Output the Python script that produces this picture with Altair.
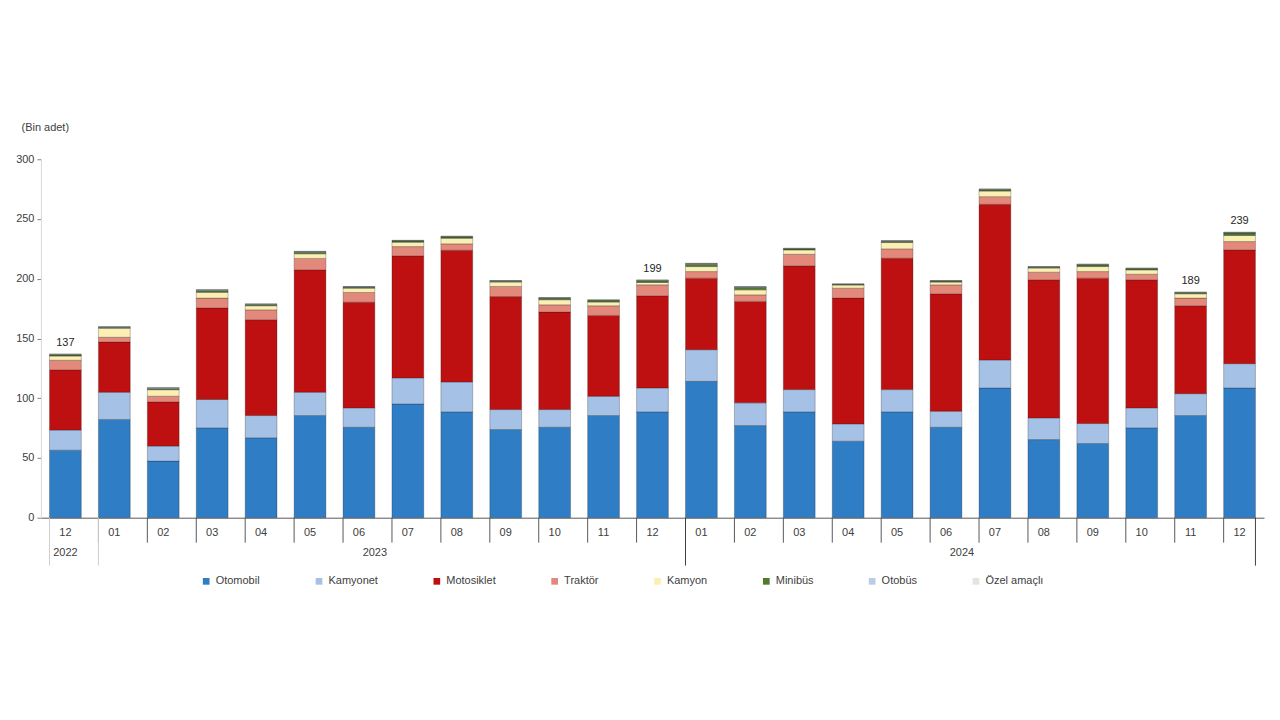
import altair as alt
import pandas as pd

keys = ["2022-12",
        "2023-01", "2023-02", "2023-03", "2023-04", "2023-05", "2023-06",
        "2023-07", "2023-08", "2023-09", "2023-10", "2023-11", "2023-12",
        "2024-01", "2024-02", "2024-03", "2024-04", "2024-05", "2024-06",
        "2024-07", "2024-08", "2024-09", "2024-10", "2024-11", "2024-12"]

categories = ["Otomobil", "Kamyonet", "Motosiklet", "Traktör",
              "Kamyon", "Minibüs", "Otobüs", "Özel amaçlı"]
colors = ["#2F7DC4", "#A6C1E6", "#BE1010", "#E3897C",
          "#FBEFB4", "#4F7A30", "#B9CCE8", "#E3E3E3"]

otomobil = [56.5, 82.2, 47.4, 75.2, 66.9, 85.5, 75.7, 95.2, 88.6, 73.8, 75.7, 85.5, 88.6,
            114.1, 77.1, 88.6, 64.0, 88.6, 75.7, 108.6, 65.4, 62.1, 75.2, 85.5, 108.6]
kamyonet = [16.8, 22.8, 12.5, 23.7, 18.6, 19.5, 16.2, 21.8, 25.0, 16.7, 14.8, 16.1, 20.0,
            26.5, 19.0, 18.6, 14.5, 18.6, 13.4, 23.4, 18.1, 16.7, 16.7, 18.3, 20.3]
motosiklet = [50.4, 42.0, 37.0, 76.6, 80.2, 102.5, 88.5, 102.1, 110.3, 94.6, 81.6, 67.7, 77.1,
              59.9, 84.9, 103.6, 105.3, 110.0, 98.3, 130.3, 115.6, 121.7, 107.2, 73.6, 95.2]
traktor = [8.1, 4.0, 4.8, 8.3, 8.3, 9.5, 8.1, 7.8, 5.3, 8.4, 6.1, 8.1, 9.2,
           5.5, 5.5, 9.7, 8.3, 7.8, 7.5, 6.4, 6.4, 5.5, 4.7, 6.4, 7.0]
kamyon = [3.5, 7.6, 5.4, 4.8, 3.4, 3.9, 3.6, 3.7, 4.7, 3.7, 4.2, 3.1, 2.0,
          4.2, 4.2, 3.6, 2.6, 5.3, 2.3, 4.7, 3.4, 4.2, 3.6, 3.6, 5.1]
minibus = [0.9, 0.6, 0.9, 1.4, 0.9, 1.3, 0.8, 1.0, 1.1, 0.8, 1.2, 1.2, 1.4,
           2.0, 2.0, 0.8, 0.5, 1.0, 0.8, 1.1, 0.8, 1.4, 1.0, 0.9, 2.0]
otobus = [0.5, 0.5, 0.6, 0.6, 0.4, 0.5, 0.4, 0.4, 0.4, 0.3, 0.4, 0.4, 0.4,
          0.5, 0.5, 0.4, 0.3, 0.4, 0.3, 0.4, 0.3, 0.4, 0.3, 0.3, 0.5]
ozel = [0.3, 0.3, 0.4, 0.4, 0.3, 0.3, 0.2, 0.2, 0.2, 0.2, 0.3, 0.3, 0.3,
        0.3, 0.3, 0.3, 0.2, 0.2, 0.2, 0.2, 0.2, 0.2, 0.2, 0.2, 0.3]

series = [otomobil, kamyonet, motosiklet, traktor, kamyon, minibus, otobus, ozel]

labeled_keys = ["2022-12", "2023-12", "2024-11", "2024-12"]

years = ["2022", "2023", "2024"]
year_anchor_center = ["2022-12"]          # year label centred on this band
year_anchor_edge = ["2023-06", "2024-06"]  # year label at right edge of this band
long_sep_light = ["2022-12", "2023-01"]
long_sep_dark_left = ["2024-01"]
long_sep_dark_right = ["2024-12"]

rows = []
for i, k in enumerate(keys):
    for j, c in enumerate(categories):
        rows.append({"key": k, "cat": c, "order": j, "value": series[j][i]})
df = pd.DataFrame(rows)

W, H = 1225, 359
FONT = "Liberation Sans"

xscale = alt.Scale(domain=keys, paddingInner=0.35, paddingOuter=0.175)

bars = alt.Chart(df).mark_bar(stroke="#1a1a1a", strokeWidth=0.6, strokeOpacity=0.45).encode(
    x=alt.X("key:N", scale=xscale,
            axis=alt.Axis(title=None, labelAngle=0, ticks=False,
                          labelExpr="split(datum.label, '-')[1]",
                          labelPadding=9, labelFontSize=11, labelColor="#404040",
                          labelFont=FONT, domainColor="#595959", domainWidth=1)),
    y=alt.Y("value:Q", stack="zero",
            scale=alt.Scale(domain=[0, 300], nice=False),
            axis=alt.Axis(values=[0, 50, 100, 150, 200, 250, 300], grid=False,
                          domainColor="#d9d9d9", tickColor="#7f7f7f", tickSize=4,
                          labelFontSize=11, labelColor="#404040", labelFont=FONT,
                          labelPadding=3,
                          title="(Bin adet)", titleAngle=0, titleAlign="left",
                          titleBaseline="middle",
                          titleX=-20, titleY=-32, titleFont=FONT,
                          titleFontSize=11, titleFontWeight="normal",
                          titleColor="#404040")),
    color=alt.Color("cat:N", scale=alt.Scale(domain=categories, range=colors),
                    legend=alt.Legend(title=None, orient="none", direction="horizontal",
                                      columns=8, columnPadding=53,
                                      legendX=160, legendY=417,
                                      symbolType="square", symbolSize=45,
                                      symbolStrokeWidth=0,
                                      labelFont=FONT, labelFontSize=11,
                                      labelColor="#404040", labelLimit=120)),
    order=alt.Order("order:Q", sort="ascending"),
)

totals = alt.Chart(df).transform_aggregate(
    total="sum(value)", groupby=["key"]
).transform_filter(
    alt.FieldOneOfPredicate(field="key", oneOf=labeled_keys)
).mark_text(dy=-6, font=FONT, fontSize=11, color="#262626", baseline="bottom").encode(
    x=alt.X("key:N", scale=xscale),
    y=alt.Y("total:Q"),
    text=alt.Text("total:Q", format=".0f"),
)

sep_df = pd.DataFrame({"key": keys})
short_sep = alt.Chart(sep_df).mark_rule(color="#595959", strokeWidth=1).encode(
    x=alt.X("key:N", scale=xscale, bandPosition=0),
    y=alt.value(H), y2=alt.value(H + 25),
)
long_light = alt.Chart(pd.DataFrame({"key": long_sep_light})).mark_rule(
    color="#d0d0d0", strokeWidth=1).encode(
    x=alt.X("key:N", scale=xscale, bandPosition=0),
    y=alt.value(H), y2=alt.value(H + 48),
)
long_dark_l = alt.Chart(pd.DataFrame({"key": long_sep_dark_left})).mark_rule(
    color="#404040", strokeWidth=1).encode(
    x=alt.X("key:N", scale=xscale, bandPosition=0),
    y=alt.value(H), y2=alt.value(H + 48),
)
long_dark_r = alt.Chart(pd.DataFrame({"key": long_sep_dark_right})).mark_rule(
    color="#404040", strokeWidth=1).encode(
    x=alt.X("key:N", scale=xscale, bandPosition=1),
    y=alt.value(H), y2=alt.value(H + 48),
)

yr_c = alt.Chart(pd.DataFrame({"key": year_anchor_center, "year": years[:1]})).mark_text(
    font=FONT, fontSize=11, color="#404040", baseline="middle").encode(
    x=alt.X("key:N", scale=xscale, bandPosition=0.5),
    y=alt.value(H + 35), text="year:N",
)
yr_e = alt.Chart(pd.DataFrame({"key": year_anchor_edge, "year": years[1:]})).mark_text(
    font=FONT, fontSize=11, color="#404040", baseline="middle").encode(
    x=alt.X("key:N", scale=xscale, bandPosition=1),
    y=alt.value(H + 35), text="year:N",
)

chart = alt.layer(
    bars, totals, short_sep, long_light, long_dark_l, long_dark_r, yr_c, yr_e
).properties(
    width=W, height=H,
    autosize=alt.AutoSizeParams(type="none"),
    padding={"left": 33, "top": 151, "right": 8, "bottom": 120},
).configure(background="white").configure_view(stroke=None)

chart.save("out.html", embed_options={"renderer": "svg", "actions": False})
